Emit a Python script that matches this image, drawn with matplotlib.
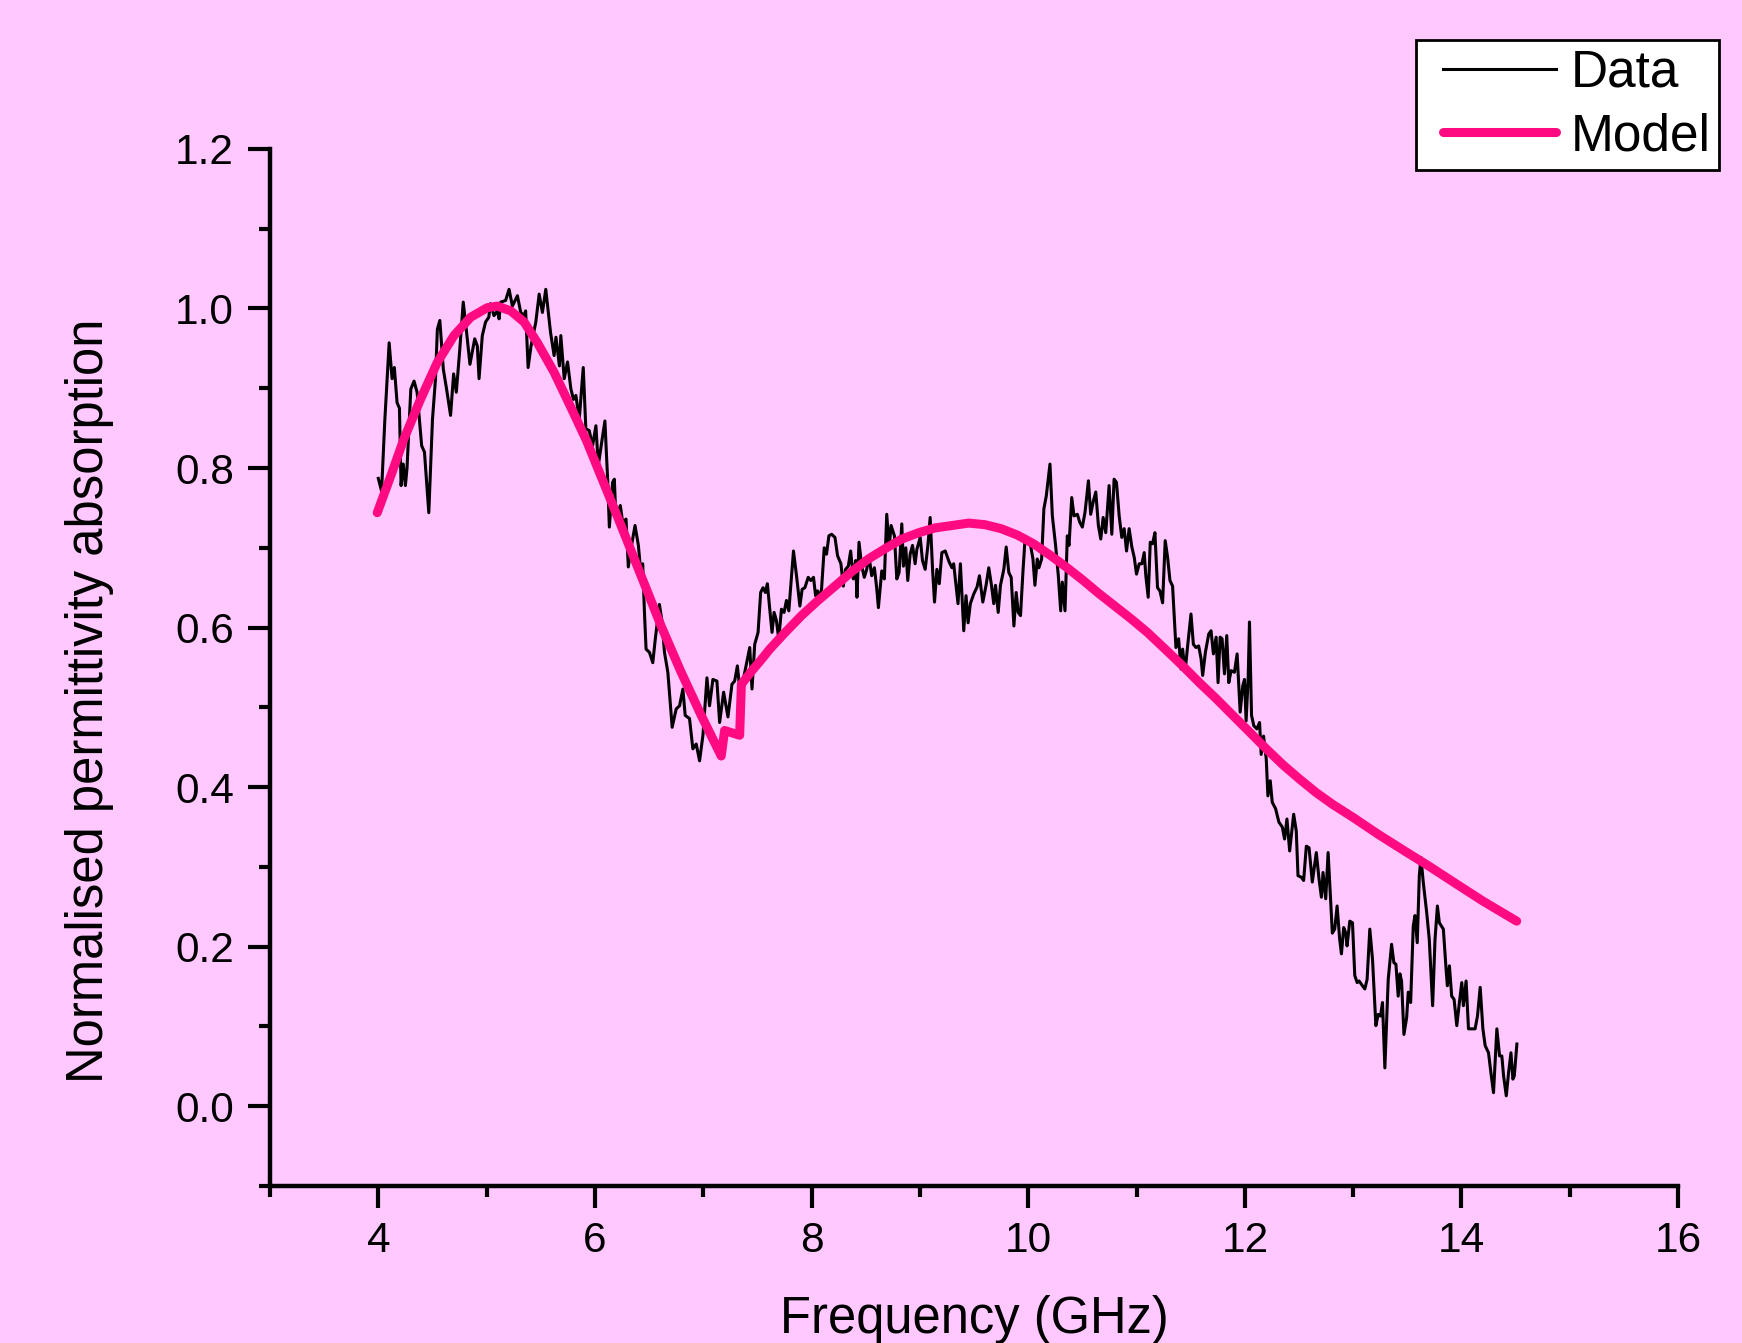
import matplotlib
matplotlib.use("Agg")
import matplotlib.pyplot as plt
from matplotlib.ticker import MultipleLocator, FormatStrFormatter
from matplotlib.legend_handler import HandlerLine2D

freq_data = [
    4.00, 4.03, 4.06, 4.10, 4.127, 4.148, 4.173, 4.195, 4.21, 4.23,
    4.25, 4.265, 4.30, 4.33, 4.358, 4.40, 4.426, 4.466, 4.50, 4.528,
    4.545, 4.568, 4.60, 4.63, 4.667, 4.695, 4.72, 4.75, 4.784, 4.815,
    4.846, 4.89, 4.914, 4.93, 4.96, 4.99, 5.02, 5.035, 5.068, 5.10,
    5.115, 5.13, 5.175, 5.207, 5.238, 5.284, 5.315, 5.345, 5.36, 5.383,
    5.41, 5.454, 5.485, 5.515, 5.546, 5.59, 5.623, 5.64, 5.672, 5.685,
    5.716, 5.747, 5.778, 5.802, 5.824, 5.855, 5.892, 5.916, 5.947, 5.978,
    6.009, 6.031, 6.062, 6.092, 6.117, 6.133, 6.163, 6.179, 6.194, 6.234,
    6.256, 6.287, 6.308, 6.333, 6.370, 6.401, 6.420, 6.441, 6.457, 6.472,
    6.503, 6.534, 6.555, 6.595, 6.617, 6.642, 6.673, 6.713, 6.750, 6.781,
    6.812, 6.833, 6.873, 6.904, 6.935, 6.966, 6.997, 7.034, 7.058, 7.089,
    7.126, 7.151, 7.188, 7.228, 7.265, 7.290, 7.315, 7.336, 7.367, 7.429,
    7.450, 7.475, 7.506, 7.530, 7.552, 7.574, 7.592, 7.614, 7.635, 7.654,
    7.675, 7.697, 7.722, 7.746, 7.768, 7.790, 7.808, 7.833, 7.861, 7.892,
    7.913, 7.938, 7.969, 7.993, 8.018, 8.037, 8.055, 8.077, 8.092, 8.117,
    8.138, 8.160, 8.185, 8.216, 8.240, 8.271, 8.293, 8.314, 8.339, 8.361,
    8.385, 8.407, 8.419, 8.438, 8.463, 8.487, 8.509, 8.530, 8.555, 8.580,
    8.601, 8.617, 8.648, 8.672, 8.694, 8.716, 8.734, 8.765, 8.787, 8.808,
    8.833, 8.848, 8.870, 8.888, 8.910, 8.932, 8.956, 8.972, 9.003, 9.024,
    9.049, 9.074, 9.095, 9.117, 9.135, 9.157, 9.179, 9.203, 9.234, 9.271,
    9.296, 9.312, 9.334, 9.352, 9.374, 9.389, 9.405, 9.426, 9.445, 9.466,
    9.497, 9.528, 9.550, 9.581, 9.611, 9.636, 9.661, 9.682, 9.698, 9.723,
    9.744, 9.775, 9.797, 9.821, 9.843, 9.868, 9.889, 9.908, 9.929, 9.951,
    9.969, 9.994, 10.022, 10.044, 10.062, 10.084, 10.099, 10.124, 10.145, 10.167,
    10.185, 10.201, 10.223, 10.253, 10.278, 10.300, 10.315, 10.340, 10.361, 10.377,
    10.402, 10.423, 10.454, 10.476, 10.500, 10.525, 10.556, 10.577, 10.599, 10.624,
    10.648, 10.670, 10.692, 10.716, 10.747, 10.772, 10.793, 10.815, 10.840, 10.864,
    10.886, 10.908, 10.932, 10.957, 10.979, 11.000, 11.025, 11.050, 11.071, 11.086,
    11.108, 11.127, 11.148, 11.170, 11.194, 11.216, 11.241, 11.265, 11.287, 11.309,
    11.333, 11.349, 11.364, 11.389, 11.411, 11.426, 11.448, 11.472, 11.503, 11.525,
    11.549, 11.574, 11.596, 11.611, 11.636, 11.667, 11.688, 11.710, 11.735, 11.753,
    11.772, 11.790, 11.812, 11.833, 11.852, 11.873, 11.904, 11.929, 11.957, 11.981,
    11.997, 12.012, 12.031, 12.043, 12.062, 12.083, 12.111, 12.136, 12.151, 12.173,
    12.198, 12.213, 12.235, 12.253, 12.284, 12.315, 12.346, 12.367, 12.389, 12.414,
    12.451, 12.475, 12.491, 12.522, 12.543, 12.568, 12.593, 12.623, 12.660, 12.685,
    12.707, 12.722, 12.747, 12.769, 12.790, 12.808, 12.830, 12.852, 12.876, 12.892,
    12.913, 12.932, 12.944, 12.969, 12.994, 13.015, 13.037, 13.055, 13.086, 13.108,
    13.129, 13.154, 13.179, 13.210, 13.231, 13.253, 13.271, 13.293, 13.324, 13.355,
    13.376, 13.395, 13.416, 13.432, 13.447, 13.469, 13.494, 13.509, 13.531, 13.555,
    13.571, 13.592, 13.611, 13.626, 13.648, 13.679, 13.703, 13.734, 13.756, 13.778,
    13.796, 13.833, 13.858, 13.870, 13.889, 13.910, 13.932, 13.957, 13.981, 14.003,
    14.018, 14.043, 14.065, 14.095, 14.126, 14.148, 14.173, 14.198, 14.219, 14.250,
    14.272, 14.296, 14.327, 14.352, 14.373, 14.389, 14.414, 14.435, 14.457, 14.475,
    14.488, 14.512,
]
absorb_data = [
    0.787, 0.771, 0.860, 0.957, 0.912, 0.926, 0.882, 0.875, 0.778, 0.805,
    0.778, 0.800, 0.899, 0.909, 0.895, 0.828, 0.820, 0.744, 0.861, 0.912,
    0.974, 0.985, 0.924, 0.899, 0.866, 0.918, 0.895, 0.945, 1.008, 0.970,
    0.930, 0.962, 0.953, 0.912, 0.966, 0.983, 0.989, 1.006, 0.991, 0.997,
    0.987, 1.008, 1.010, 1.024, 1.003, 1.016, 0.995, 0.991, 0.997, 0.926,
    0.953, 0.983, 1.018, 0.995, 1.024, 0.970, 0.941, 0.964, 0.928, 0.966,
    0.912, 0.933, 0.899, 0.886, 0.891, 0.861, 0.926, 0.849, 0.847, 0.828,
    0.853, 0.803, 0.832, 0.859, 0.786, 0.726, 0.782, 0.786, 0.736, 0.753,
    0.732, 0.736, 0.676, 0.699, 0.728, 0.703, 0.674, 0.680, 0.619, 0.573,
    0.569, 0.556, 0.583, 0.629, 0.610, 0.569, 0.544, 0.475, 0.498, 0.502,
    0.523, 0.490, 0.486, 0.448, 0.454, 0.433, 0.465, 0.537, 0.502, 0.535,
    0.533, 0.481, 0.519, 0.488, 0.529, 0.533, 0.552, 0.525, 0.533, 0.575,
    0.523, 0.579, 0.594, 0.644, 0.650, 0.644, 0.655, 0.623, 0.594, 0.619,
    0.609, 0.586, 0.623, 0.619, 0.634, 0.621, 0.652, 0.696, 0.665, 0.627,
    0.648, 0.650, 0.663, 0.659, 0.663, 0.640, 0.646, 0.638, 0.648, 0.700,
    0.692, 0.715, 0.717, 0.713, 0.690, 0.680, 0.652, 0.673, 0.677, 0.696,
    0.661, 0.684, 0.638, 0.707, 0.677, 0.663, 0.673, 0.690, 0.665, 0.675,
    0.650, 0.625, 0.671, 0.661, 0.742, 0.700, 0.728, 0.715, 0.661, 0.669,
    0.730, 0.677, 0.700, 0.659, 0.692, 0.703, 0.680, 0.698, 0.713, 0.684,
    0.673, 0.703, 0.738, 0.673, 0.632, 0.673, 0.655, 0.694, 0.696, 0.682,
    0.675, 0.680, 0.653, 0.630, 0.680, 0.640, 0.596, 0.640, 0.606, 0.630,
    0.642, 0.651, 0.665, 0.632, 0.653, 0.675, 0.653, 0.630, 0.653, 0.619,
    0.653, 0.673, 0.701, 0.669, 0.663, 0.602, 0.644, 0.619, 0.615, 0.669,
    0.707, 0.707, 0.703, 0.686, 0.653, 0.686, 0.675, 0.686, 0.749, 0.765,
    0.786, 0.805, 0.740, 0.703, 0.665, 0.621, 0.657, 0.621, 0.715, 0.703,
    0.763, 0.740, 0.742, 0.732, 0.726, 0.745, 0.784, 0.742, 0.757, 0.770,
    0.728, 0.711, 0.738, 0.719, 0.778, 0.717, 0.786, 0.782, 0.740, 0.713,
    0.724, 0.696, 0.724, 0.701, 0.688, 0.667, 0.680, 0.680, 0.694, 0.665,
    0.638, 0.707, 0.705, 0.719, 0.650, 0.646, 0.631, 0.709, 0.688, 0.659,
    0.652, 0.611, 0.575, 0.586, 0.548, 0.573, 0.544, 0.577, 0.617, 0.579,
    0.575, 0.577, 0.561, 0.540, 0.569, 0.592, 0.596, 0.567, 0.588, 0.531,
    0.588, 0.586, 0.542, 0.590, 0.531, 0.546, 0.544, 0.567, 0.494, 0.527,
    0.535, 0.483, 0.537, 0.607, 0.490, 0.477, 0.473, 0.481, 0.441, 0.464,
    0.435, 0.389, 0.408, 0.381, 0.373, 0.356, 0.350, 0.335, 0.360, 0.320,
    0.366, 0.345, 0.289, 0.287, 0.283, 0.326, 0.324, 0.281, 0.318, 0.285,
    0.262, 0.293, 0.260, 0.318, 0.264, 0.217, 0.222, 0.251, 0.209, 0.191,
    0.224, 0.217, 0.201, 0.232, 0.230, 0.164, 0.155, 0.157, 0.151, 0.147,
    0.159, 0.222, 0.184, 0.101, 0.115, 0.113, 0.130, 0.048, 0.159, 0.203,
    0.180, 0.178, 0.138, 0.166, 0.157, 0.090, 0.111, 0.143, 0.130, 0.226,
    0.239, 0.205, 0.289, 0.312, 0.280, 0.243, 0.209, 0.126, 0.209, 0.251,
    0.230, 0.222, 0.172, 0.151, 0.176, 0.138, 0.134, 0.101, 0.130, 0.155,
    0.126, 0.157, 0.097, 0.097, 0.097, 0.113, 0.149, 0.097, 0.076, 0.067,
    0.042, 0.017, 0.097, 0.063, 0.063, 0.038, 0.013, 0.042, 0.067, 0.034,
    0.038, 0.078,
]

# fitted model curve
freq_model = [
    3.99, 4.12, 4.235, 4.389, 4.543, 4.698, 4.852, 5.006, 5.099, 5.222,
    5.346, 5.469, 5.623, 5.778, 5.92, 6.055, 6.241, 6.426, 6.611, 6.796,
    6.981, 7.166, 7.197, 7.336, 7.352, 7.45, 7.537, 7.614, 7.75, 7.907,
    8.06, 8.216, 8.37, 8.524, 8.68, 8.833, 8.99, 9.142, 9.30, 9.45,
    9.60, 9.75, 9.90, 10.05, 10.20, 10.35, 10.50, 10.65, 10.80, 10.95,
    11.10, 11.272, 11.426, 11.58, 11.735, 11.889, 12.044, 12.198, 12.352, 12.506,
    12.66, 12.815, 13.00, 13.23, 13.463, 13.70, 13.926, 14.20, 14.51,
]
absorb_model = [
    0.744, 0.792, 0.836, 0.886, 0.932, 0.966, 0.989, 1.001, 1.003, 0.997,
    0.983, 0.957, 0.920, 0.876, 0.835, 0.790, 0.728, 0.665, 0.602, 0.544,
    0.490, 0.439, 0.471, 0.465, 0.529, 0.546, 0.560, 0.573, 0.593, 0.615,
    0.634, 0.652, 0.670, 0.686, 0.699, 0.711, 0.719, 0.725, 0.728, 0.731,
    0.729, 0.724, 0.716, 0.705, 0.691, 0.676, 0.660, 0.643, 0.627, 0.611,
    0.594, 0.572, 0.552, 0.531, 0.511, 0.490, 0.469, 0.448, 0.428, 0.410,
    0.393, 0.378, 0.362, 0.341, 0.321, 0.301, 0.281, 0.257, 0.232,
]

bg = '#FFC8FF'
pink = '#FF0A80'


class PaddedLineHandler(HandlerLine2D):
    # leaves a little blank room left of the legend line, like Origin does
    def create_artists(self, legend, orig_handle, xdescent, ydescent,
                       width, height, fontsize, trans):
        gap = 0.35 * fontsize
        return super().create_artists(legend, orig_handle, xdescent - gap,
                                      ydescent, width - gap, height,
                                      fontsize, trans)


plt.rcParams['font.family'] = ['Liberation Sans', 'DejaVu Sans']

fig = plt.figure(figsize=(17.42, 13.43), dpi=100, facecolor=bg)
ax = fig.add_axes([0.155, 0.1169, 0.8083, 0.7722])
ax.set_facecolor(bg)

data_line, = ax.plot(freq_data, absorb_data, color='black', lw=2.2, label='Data')
model_line, = ax.plot(freq_model, absorb_model, color=pink, lw=6.5, label='Model',
                      solid_capstyle='round', solid_joinstyle='round')

ax.set_xlim(3, 16)
ax.set_ylim(-0.1, 1.2)
ax.xaxis.set_major_locator(MultipleLocator(2))
ax.xaxis.set_minor_locator(MultipleLocator(1))
ax.yaxis.set_major_locator(MultipleLocator(0.2))
ax.yaxis.set_minor_locator(MultipleLocator(0.1))
ax.yaxis.set_major_formatter(FormatStrFormatter('%.1f'))

for s in ['top', 'right']:
    ax.spines[s].set_visible(False)
for s in ['left', 'bottom']:
    ax.spines[s].set_linewidth(3.2)

ax.tick_params(which='major', direction='out', length=16, width=3,
               labelsize=30.5, pad=10)
ax.tick_params(which='minor', direction='out', length=8, width=3)
ax.tick_params(axis='x', which='major', pad=9)

ax.set_xlabel('Frequency (GHz)', fontsize=36.5, va='baseline')
ax.xaxis.set_label_coords(0.5, -0.1418)
ax.set_ylabel('Normalised permittivity absorption', fontsize=36.5)
ax.yaxis.set_label_coords(-0.1108, 0.4677)

leg = ax.legend(handles=[data_line, model_line],
                handler_map={data_line: PaddedLineHandler(),
                             model_line: PaddedLineHandler()},
                loc='upper right', bbox_to_anchor=(0.9868, 0.9702),
                bbox_transform=fig.transFigure, fontsize=37, frameon=True,
                fancybox=False, edgecolor='black', framealpha=1,
                handlelength=2.55, handletextpad=0.28, borderpad=0.17,
                labelspacing=0.28, borderaxespad=0)
leg.get_frame().set_linewidth(2)

fig.savefig('out.png', dpi=100, facecolor=bg)
